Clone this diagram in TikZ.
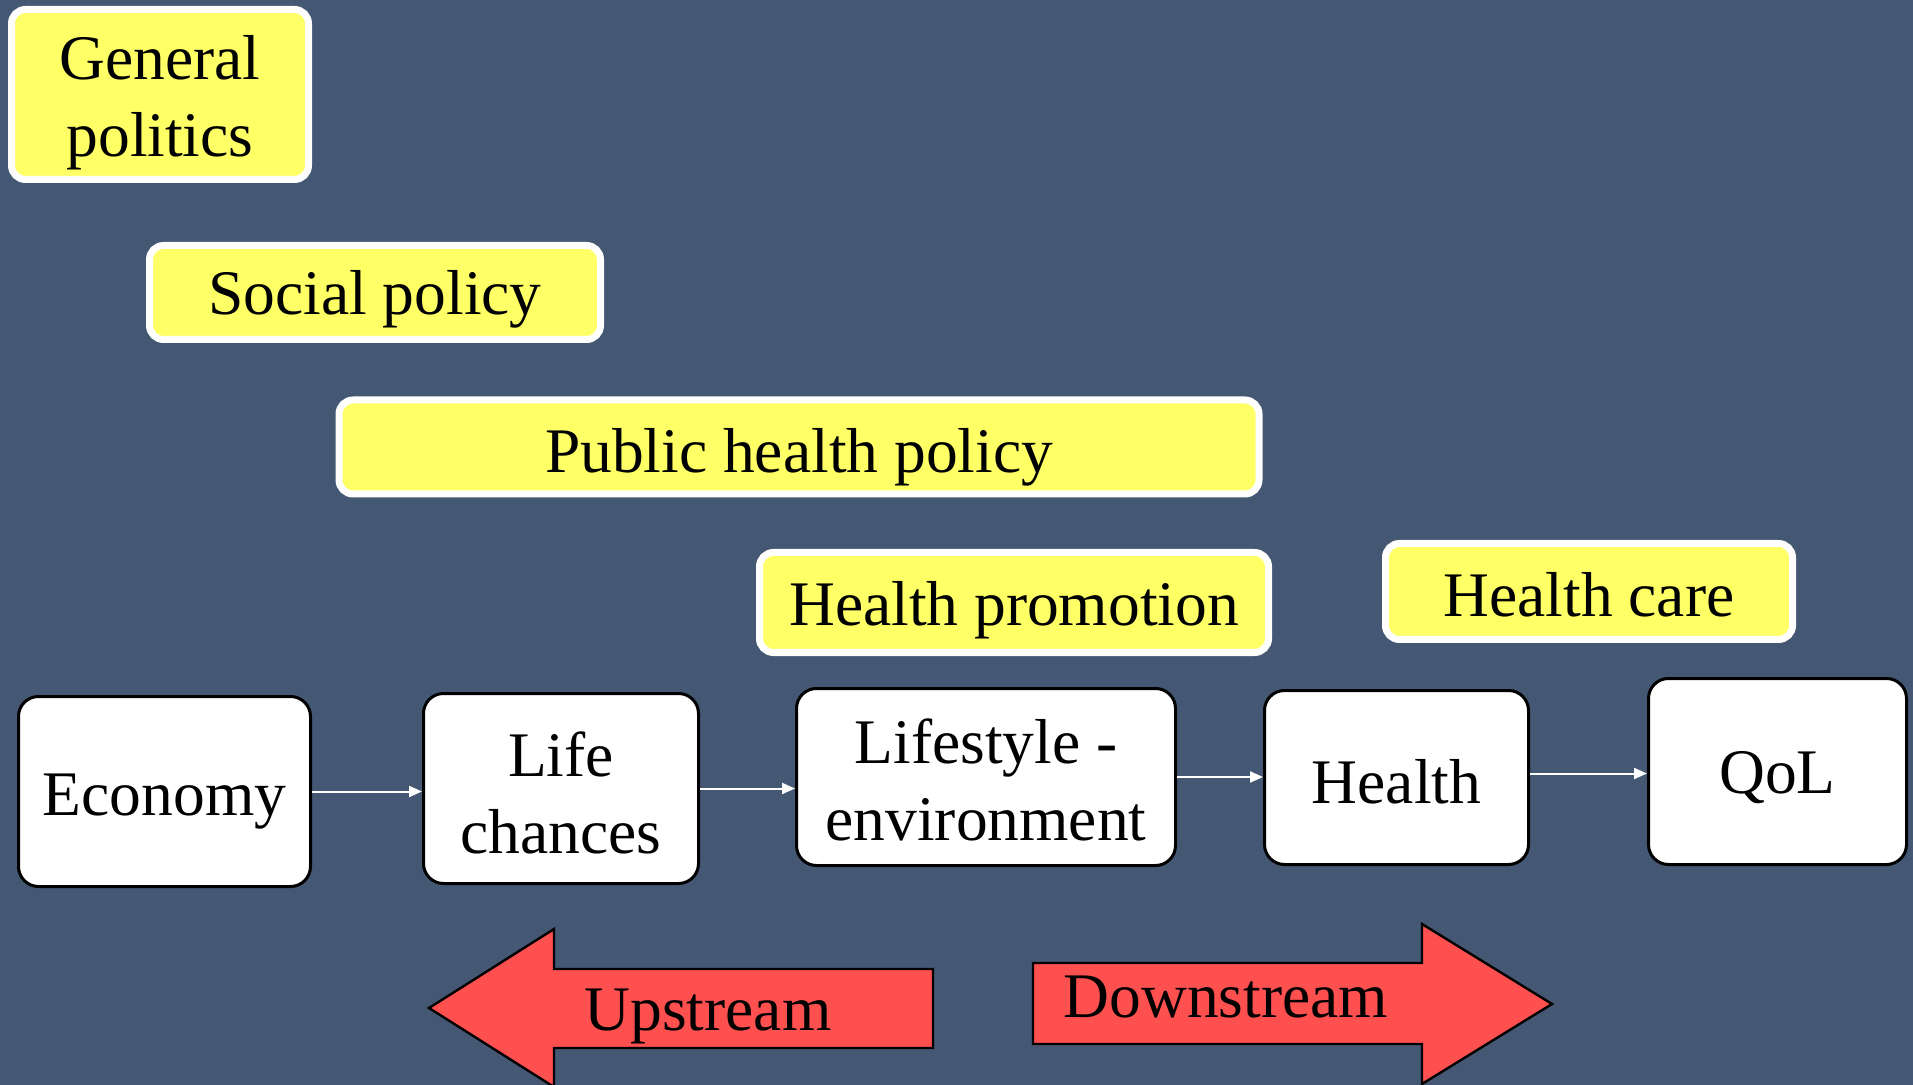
\documentclass[tikz,border=0pt]{standalone}
\usepackage{fontspec}
\setmainfont{Liberation Serif}
\usetikzlibrary{arrows.meta}
\definecolor{bgblue}{RGB}{68,88,115}
\definecolor{ybox}{RGB}{255,255,102}
\definecolor{redarrow}{RGB}{255,80,80}
\begin{document}
\begin{tikzpicture}[x=0.5pt,y=-0.5pt,
  every node/.style={font=\fontsize{31.75}{38.5}\selectfont, inner sep=0pt, align=center},
  ylabel/.style={draw=white, line width=3.5pt, fill=ybox, rounded corners=7pt},
  wbox/.style={draw=black, line width=1.5pt, fill=white, rounded corners=10pt},
  flow/.style={draw=white, line width=1pt, -{Triangle[length=6.5pt,width=5.5pt]}},
  bigarrow/.style={fill=redarrow, draw=black, line width=1.2pt, line join=miter}
]
\fill[bgblue] (0,0) rectangle (1913,1085);
\useasboundingbox (0,0) rectangle (1913,1085);

% yellow policy labels
\node[ylabel, minimum width=148.5pt, minimum height=85pt] (gp) at (160,94.5) {};
\node[ylabel, minimum width=225.5pt, minimum height=47pt] (sp) at (375,292.5) {};
\node[ylabel, minimum width=460pt, minimum height=47pt] (php) at (799,447) {};
\node[ylabel, minimum width=254.5pt, minimum height=50pt] (hp) at (1014,602.5) {};
\node[ylabel, minimum width=203.5pt, minimum height=48pt] (hc) at (1589,591.5) {};
\node (gpt) at ([yshift=-4pt]gp.center) {General\\politics};
\node (spt) at ([yshift=-3.5pt]sp.center) {Social policy};
\node (phpt) at ([yshift=-5pt]php.center) {Public health policy};
\node (hpt) at ([yshift=-4pt]hp.center) {Health promotion};
\node (hct) at ([yshift=-1.5pt]hc.center) {Health care};

% white chain boxes
\node[wbox, minimum width=146pt, minimum height=95pt] (eco) at (164.5,791.5) {};
\node[wbox, minimum width=137.5pt, minimum height=95pt] (lc) at (561,788.5) {};
\node[wbox, minimum width=189.5pt, minimum height=88.5pt] (ls) at (986,777) {};
\node[wbox, minimum width=132pt, minimum height=87pt] (he) at (1396.5,777.5) {};
\node[wbox, minimum width=129pt, minimum height=93pt] (qol) at (1777.5,771.5) {};
\node (ecot) at ([yshift=-5pt]eco.center) {Economy};
\node (lct) at ([yshift=-2pt]lc.center) {Life\\chances};
\node (lst) at ([yshift=-1.5pt]ls.center) {Lifestyle -\\environment};
\node (het) at ([yshift=-2pt]he.center) {Health};
\node (qolt) at ([yshift=-3pt]qol.center) {QoL};

% connectors
\draw[flow] (eco.east) -- (eco.east -| lc.west);
\draw[flow] (lc.east) -- (lc.east -| ls.west);
\draw[flow] (ls.east) -- (ls.east -| he.west);
\draw[flow] ([yshift=2pt]he.east) -- ([yshift=2pt]he.east -| qol.west);

% big red arrows
\draw[bigarrow] (429,1008) -- (554,929) -- (554,969) -- (933,969) -- (933,1048) -- (554,1048) -- (554,1087) -- cycle;
\node (up) at (708,1016) {Upstream};
\draw[bigarrow] (1033,963) -- (1422,963) -- (1422,924) -- (1552,1004) -- (1422,1084) -- (1422,1044) -- (1033,1044) -- cycle;
\node (down) at (1226,997) {Downstream};
\end{tikzpicture}
\end{document}
